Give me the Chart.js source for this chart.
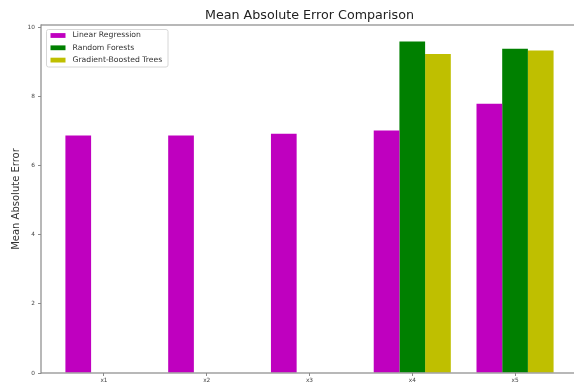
<!DOCTYPE html>
<html>
<head>
<meta charset="utf-8">
<script src="https://cdn.jsdelivr.net/npm/chart.js@4/dist/chart.umd.min.js"></script>
<style>
  html, body { margin: 0; padding: 0; background: #fff; overflow: hidden; }
  #chart { display: block; }
</style>
</head>
<body>
<canvas id="chart" width="574" height="385" style="width:574px;height:385px"></canvas>
<script>
// Categories and the mean absolute error of each model
const categories = ['x1', 'x2', 'x3', 'x4', 'x5'];
const linearRegression = [6.87, 6.87, 6.92, 7.02, 7.79];
const randomForests = [null, null, null, 9.59, 9.38];
const gradientBoosted = [null, null, null, 9.23, 9.33];
const seriesNames = ['Linear Regression', 'Random Forests', 'Gradient-Boosted Trees'];
const seriesColors = ['#bf00bf', '#008000', '#bfbf00'];
const yTicks = [0, 2, 4, 6, 8, 10];
const titleText = 'Mean Absolute Error Comparison';
const yAxisTitle = 'Mean Absolute Error';

const FONT = "'DejaVu Sans', sans-serif";
// Visible x range: the axes run on past the right edge of the canvas
const X_MIN = -0.6125, X_MAX = 4.5737, X_FULL_MAX = 4.6125;
const SPINE = '#8a8a8a';

function points(values) {
  return categories.map((c, i) => ({ x: i, y: values[i] }));
}

// Left, top and bottom spines drawn above the bars (the right one lies off-canvas)
const framePlugin = {
  id: 'axesFrame',
  afterDatasetsDraw(chart) {
    const { ctx, chartArea: a, width } = chart;
    ctx.save();
    ctx.fillStyle = SPINE;
    ctx.fillRect(a.left, a.top - 0.6, width - a.left, 1.2);
    ctx.fillRect(a.left, a.bottom - 0.6, width - a.left, 1.2);
    ctx.fillRect(a.left - 0.6, a.top - 0.6, 1.2, a.bottom - a.top + 1.2);
    ctx.restore();
  }
};

// Title centred over the whole axes box
const titlePlugin = {
  id: 'axesTitle',
  afterDraw(chart) {
    const { ctx, chartArea: a, scales } = chart;
    const fullRight = scales.x.getPixelForValue(X_FULL_MAX);
    ctx.save();
    ctx.font = `12.7px ${FONT}`;
    ctx.fillStyle = '#222';
    ctx.textAlign = 'center';
    ctx.textBaseline = 'middle';
    ctx.fillText(titleText, (a.left + fullRight) / 2, 16);
    ctx.restore();
  }
};

// Legend box in the upper-left corner of the plot
const legendPlugin = {
  id: 'innerLegend',
  afterDraw(chart) {
    const { ctx, chartArea: a } = chart;
    const x0 = a.left + 5.5, y0 = a.top + 4.5;
    const w = 121.5, h = 37.5, r = 2;
    ctx.save();
    ctx.beginPath();
    ctx.moveTo(x0 + r, y0);
    ctx.arcTo(x0 + w, y0, x0 + w, y0 + h, r);
    ctx.arcTo(x0 + w, y0 + h, x0, y0 + h, r);
    ctx.arcTo(x0, y0 + h, x0, y0, r);
    ctx.arcTo(x0, y0, x0 + w, y0, r);
    ctx.closePath();
    ctx.fillStyle = 'rgba(255,255,255,0.8)';
    ctx.fill();
    ctx.strokeStyle = '#d6d6d6';
    ctx.lineWidth = 1;
    ctx.stroke();
    ctx.font = `7.7px ${FONT}`;
    ctx.textBaseline = 'middle';
    chart.data.datasets.forEach((ds, i) => {
      const cy = y0 + 6 + i * 12.3;
      ctx.fillStyle = ds.backgroundColor;
      ctx.fillRect(x0 + 4, cy - 2.4, 15, 4.8);
      ctx.fillStyle = '#333';
      ctx.fillText(ds.label, x0 + 26, cy);
    });
    ctx.restore();
  }
};

new Chart(document.getElementById('chart'), {
  type: 'bar',
  data: {
    datasets: [
      { label: seriesNames[0], data: points(linearRegression), backgroundColor: seriesColors[0] },
      { label: seriesNames[1], data: points(randomForests), backgroundColor: seriesColors[1] },
      { label: seriesNames[2], data: points(gradientBoosted), backgroundColor: seriesColors[2] }
    ]
  },
  options: {
    responsive: false,
    animation: false,
    devicePixelRatio: 1,
    layout: { padding: { top: 25, left: 0, right: 0, bottom: 0 } },
    datasets: { bar: { categoryPercentage: 0.75, barPercentage: 1.0, borderWidth: 0 } },
    plugins: { legend: { display: false }, title: { display: false }, tooltip: { enabled: false } },
    scales: {
      x: {
        type: 'linear',
        min: X_MIN,
        max: X_MAX,
        offset: false,
        afterBuildTicks: s => { s.ticks = categories.map((c, i) => ({ value: i })); },
        afterFit: s => { s.height = 12; },
        grid: { display: true, offset: false, drawOnChartArea: false, drawTicks: true, tickLength: 3, color: SPINE, lineWidth: 1 },
        border: { display: false },
        ticks: {
          autoSkip: false,
          maxRotation: 0,
          padding: 1,
          color: '#444',
          font: { family: FONT, size: 5.8 },
          callback: v => categories[v] ?? ''
        }
      },
      y: {
        type: 'linear',
        min: 0,
        max: 10.07,
        afterBuildTicks: s => { s.ticks = yTicks.map(v => ({ value: v })); },
        afterFit: s => { s.width = 41; },
        grid: { display: true, drawOnChartArea: false, drawTicks: true, tickLength: 3, color: SPINE, lineWidth: 1 },
        border: { display: false },
        ticks: {
          padding: 3,
          color: '#444',
          font: { family: FONT, size: 5.8 },
          callback: v => String(v)
        },
        title: {
          display: true,
          text: yAxisTitle,
          color: '#333',
          font: { family: FONT, size: 10 },
          padding: { top: 10, bottom: 0 }
        }
      }
    }
  },
  plugins: [framePlugin, titlePlugin, legendPlugin]
});
</script>
</body>
</html>
